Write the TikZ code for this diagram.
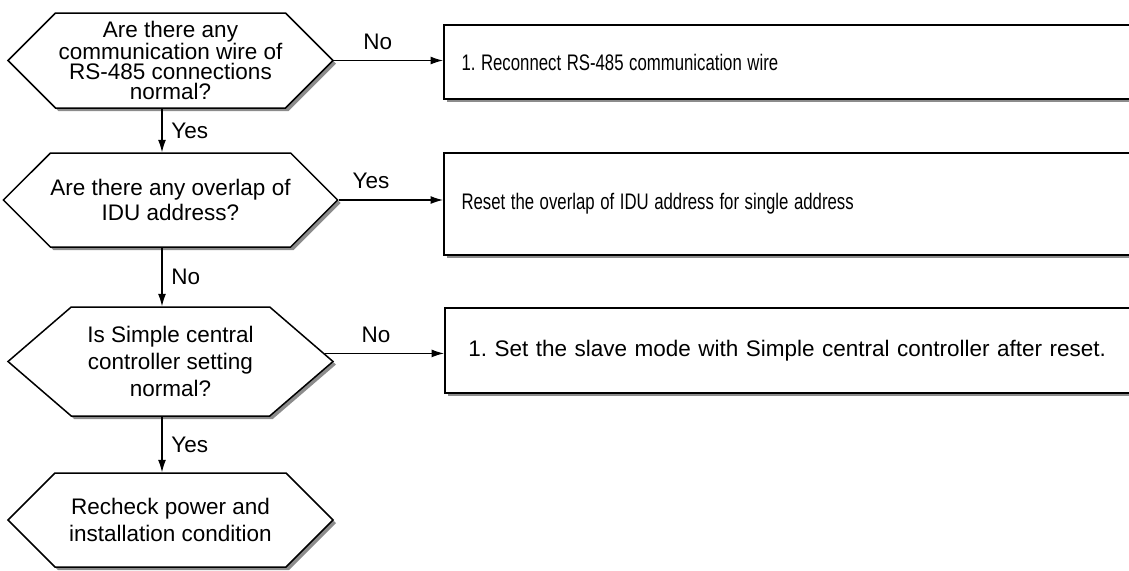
\documentclass[tikz,border=0pt]{standalone}
\usepackage{fontspec}
\usepackage{graphicx}
\setmainfont{Liberation Sans}
\usetikzlibrary{shapes.symbols,shadows,arrows.meta}

\newcommand\narrowtxt[1]{\scalebox{0.745}[1]{#1}}

\tikzset{
  hexq/.style={shape=signal, signal to=east and west, signal pointer angle=90,
    draw, line width=0.9pt, fill=white, align=center, inner sep=0pt,
    minimum width=195pt, minimum height=56.4pt,
    drop shadow={shadow xshift=1.8pt, shadow yshift=-1.8pt, fill=black!45, opacity=1}},
  actbox/.style={draw, rectangle, line width=1.2pt, fill=white, anchor=west,
    minimum width=421pt, text width=400pt, align=left, inner xsep=10pt,
    drop shadow={shadow xshift=1.8pt, shadow yshift=-1.8pt, fill=black!45, opacity=1}}
}

\begin{document}
\frenchspacing
\begin{tikzpicture}[x=0.6pt, y=-0.6pt, font=\fontsize{13.5}{16}\selectfont,
  >={Latex[length=7.5pt,width=4.8pt]}, line width=0.65pt]
\path[use as bounding box] (0,0) rectangle (1129,570);
\clip (0,0) rectangle (1129,570);

% questions
\node[hexq, minimum height=57pt, font=\fontsize{13.5}{12}\selectfont] (q1) at (170.5,60.5) {Are there any\\communication wire of\\RS-485 connections\\normal?};
\node[hexq, font=\fontsize{13.5}{14.7}\selectfont] (q2) at (170.5,200) {Are there any overlap of\\IDU address?};
\node[hexq, minimum height=65.4pt, signal pointer angle=81.5, font=\fontsize{13.5}{16.2}\selectfont] (q3) at (170.5,361.5) {Is Simple central\\controller setting\\normal?};
\node[hexq, font=\fontsize{13.5}{15.9}\selectfont] (q4) at (170.5,520) {Recheck power and\\installation condition};

% actions
\node[actbox, minimum height=44.4pt] (a1) at (443,62) {\narrowtxt{1. Reconnect RS-485 communication wire}};
\node[actbox, minimum height=61.2pt] (a2) at (443,204) {\narrowtxt{Reset the overlap of IDU address for single address}};
\node[actbox, minimum height=51pt, inner xsep=14pt] (a3) at (444,350.5) {1. Set the slave mode with Simple central controller after reset.};

\coordinate (spine) at (162,0);

\draw[->] (q1.east) -- (q1.east -| a1.west) node[pos=0.4, above=3pt] {No};
\draw[->] (q2.east) -- (q2.east -| a2.west) node[pos=0.31, above=3pt] {Yes};
\draw[->] (q3.3) -- (q3.3 -| a3.west) node[pos=0.43, above=3pt] {No};

\draw[->] (q1.south -| spine) -- (q2.north -| spine) node[midway, right=2pt] {Yes};
\draw[->] (q2.south -| spine) -- (q3.north -| spine) node[midway, right=2pt] {No};
\draw[->] (q3.south -| spine) -- (q4.north -| spine) node[midway, right=2pt] {Yes};
\end{tikzpicture}
\end{document}
